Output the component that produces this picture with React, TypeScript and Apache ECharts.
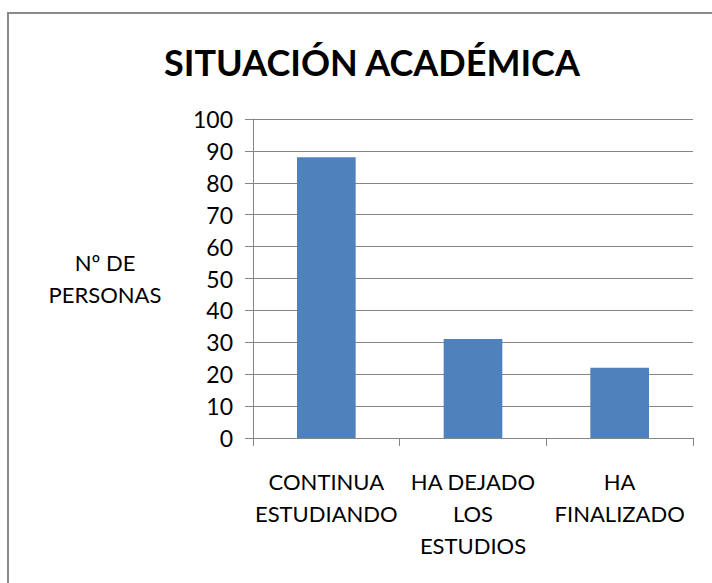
import React, { useEffect, useRef } from "react";
import * as echarts from "echarts";

const categories = ["CONTINUA\nESTUDIANDO", "HA DEJADO\nLOS\nESTUDIOS", "HA\nFINALIZADO"];
const values = [88, 31, 22];
const titleText = "SITUACIÓN ACADÉMICA";
const yAxisName = "Nº DE\nPERSONAS";

export default function App() {
  const ref = useRef<HTMLDivElement>(null);
  useEffect(() => {
    if (!ref.current) return;
    const chart = echarts.init(ref.current, null, { renderer: "svg" });
    const font = "Lato, 'Open Sans', sans-serif";
    chart.setOption({
      animation: false,
      backgroundColor: "#ffffff",
      title: {
        text: titleText,
        left: 367,
        top: 39,
        textAlign: "center",
        textStyle: { fontFamily: font, fontSize: 36, fontWeight: "bold", color: "#000000" },
      },
      graphic: [
        {
          type: "rect",
          shape: { x: 8, y: 13, width: 740, height: 620 },
          style: { fill: "none", stroke: "#8a8a8a", lineWidth: 2 },
          silent: true,
        },
      ],
      grid: { left: 253, right: 19, top: 119, bottom: 145, containLabel: false },
      xAxis: {
        type: "category",
        data: categories,
        boundaryGap: true,
        axisLine: { show: true, lineStyle: { color: "#868686", width: 1 } },
        axisTick: { show: true, length: 8, lineStyle: { color: "#868686" } },
        axisLabel: {
          interval: 0,
          margin: 27,
          fontFamily: font,
          fontSize: 22,
          lineHeight: 32,
          color: "#000000",
        },
        splitLine: { show: false },
      },
      yAxis: {
        type: "value",
        min: 0,
        max: 100,
        interval: 10,
        name: yAxisName,
        nameLocation: "middle",
        nameRotate: 0,
        nameGap: 148,
        nameTextStyle: {
          fontFamily: font,
          fontSize: 22,
          lineHeight: 32,
          color: "#000000",
          align: "center",
          verticalAlign: "middle",
        },
        axisLine: { show: true, lineStyle: { color: "#868686", width: 1 } },
        axisTick: { show: true, length: 8, lineStyle: { color: "#868686" } },
        axisLabel: { margin: 20, fontFamily: font, fontSize: 23, color: "#000000" },
        splitLine: { show: true, lineStyle: { color: "#868686", width: 1 } },
      },
      series: [
        {
          type: "bar",
          data: values,
          barWidth: "40%",
          itemStyle: { color: "#4F81BD" },
        },
      ],
    });
    return () => chart.dispose();
  }, []);
  return (
    <div
      ref={ref}
      style={{ position: "fixed", left: 0, top: 0, width: 712, height: 583 }}
    />
  );
}
